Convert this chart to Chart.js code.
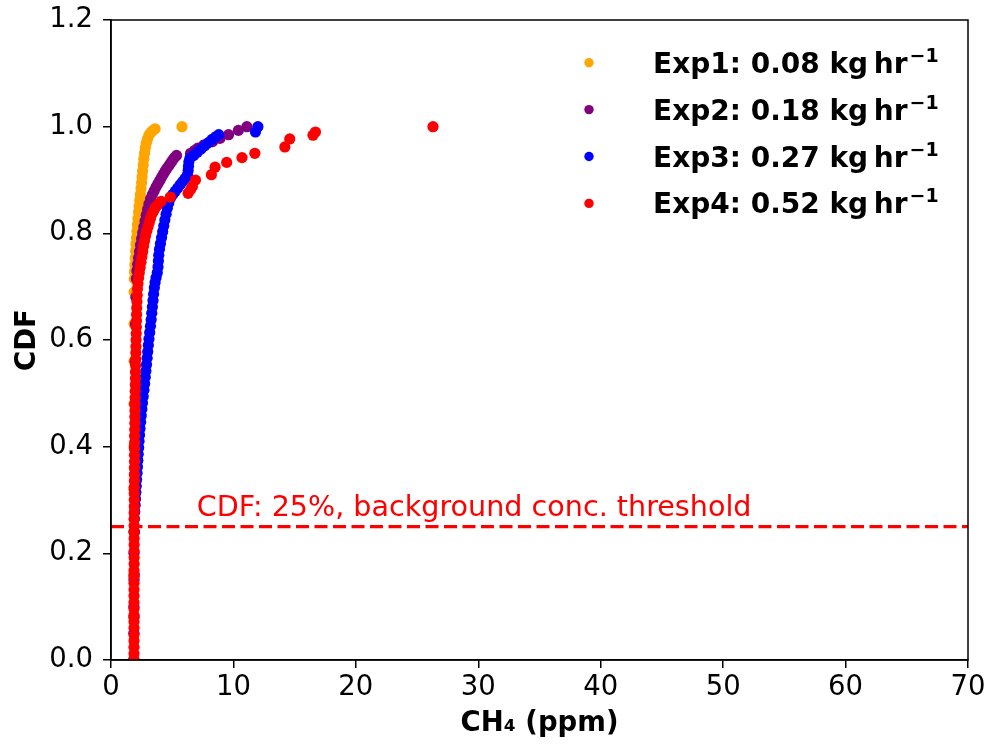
<!DOCTYPE html>
<html><head><meta charset="utf-8">
<script src="https://cdn.jsdelivr.net/npm/chart.js@4/dist/chart.umd.min.js"></script>
<style>html,body{margin:0;padding:0;background:#fff}#wrap{width:990px;height:745px}</style>
</head><body><div id="wrap"><canvas id="c" width="990" height="745"></canvas></div>
<script>
// ---- data ----
const seriesNames = ['Exp1', 'Exp2', 'Exp3', 'Exp4'];
const emissionRates = ['0.08', '0.18', '0.27', '0.52'];
const seriesColors = ['#FFA500', '#800080', '#0000FF', '#FF0000'];

// [CH4 ppm, CDF]
const exp1Points = [[1.84,0.00],[1.85,0.08],[1.85,0.16],[1.86,0.24],[1.86,0.32],[1.87,0.40],[1.87,0.48],[1.88,0.56],[1.88,0.63],[1.89,0.69],[1.9,0.715],[1.92,0.728],[1.95,0.741],[1.98,0.754],[2.01,0.767],[2.04,0.78],[2.08,0.792],[2.12,0.804],[2.16,0.816],[2.2,0.828],[2.25,0.84],[2.3,0.851],[2.35,0.862],[2.4,0.873],[2.45,0.884],[2.5,0.895],[2.54,0.906],[2.58,0.917],[2.63,0.928],[2.68,0.939],[2.74,0.95],[2.8,0.96],[2.88,0.969],[2.98,0.977],[3.1,0.984],[3.25,0.989],[3.42,0.993],[3.6,0.996],[5.8,1.0]];
const exp2Points = [[1.88,0.00],[1.89,0.08],[1.90,0.16],[1.91,0.24],[1.92,0.32],[1.93,0.40],[1.95,0.48],[1.97,0.56],[2.0,0.63],[2.03,0.68],[2.07,0.715],[2.12,0.73],[2.18,0.742],[2.25,0.754],[2.33,0.766],[2.41,0.778],[2.5,0.79],[2.59,0.801],[2.68,0.812],[2.78,0.823],[2.88,0.834],[2.99,0.845],[3.1,0.855],[3.23,0.865],[3.38,0.873],[3.53,0.88],[3.68,0.887],[3.83,0.893],[3.98,0.899],[4.13,0.905],[4.28,0.911],[4.43,0.917],[4.58,0.922],[4.73,0.927],[4.88,0.932],[5.03,0.937],[5.18,0.942],[5.35,0.946],[6.5,0.95],[6.8,0.955],[7.1,0.96],[7.6,0.966],[8.3,0.972],[8.9,0.978],[9.6,0.985],[10.4,0.993],[11.1,1.0]];
const exp3Points = [[1.86,0.00],[1.87,0.05],[1.87,0.10],[1.88,0.15],[1.88,0.20],[1.89,0.24],[1.91,0.265],[1.94,0.278],[1.97,0.29],[2.0,0.302],[2.03,0.314],[2.06,0.326],[2.09,0.338],[2.13,0.35],[2.16,0.362],[2.19,0.374],[2.22,0.386],[2.26,0.398],[2.29,0.41],[2.33,0.422],[2.37,0.434],[2.42,0.446],[2.47,0.458],[2.52,0.47],[2.57,0.482],[2.63,0.494],[2.69,0.506],[2.75,0.518],[2.8,0.53],[2.85,0.542],[2.9,0.554],[2.95,0.566],[3.0,0.578],[3.05,0.59],[3.1,0.602],[3.16,0.614],[3.22,0.626],[3.28,0.638],[3.33,0.65],[3.38,0.662],[3.43,0.674],[3.48,0.686],[3.54,0.698],[3.6,0.708],[3.68,0.717],[3.78,0.726],[3.84,0.737],[3.87,0.748],[3.9,0.759],[3.96,0.77],[4.04,0.781],[4.13,0.792],[4.22,0.803],[4.31,0.814],[4.4,0.825],[4.5,0.836],[4.6,0.847],[4.72,0.857],[4.86,0.866],[5.05,0.873],[5.25,0.879],[5.45,0.885],[5.65,0.891],[5.85,0.897],[6.05,0.903],[6.25,0.91],[6.3,0.918],[6.33,0.926],[6.36,0.934],[6.45,0.941],[6.75,0.946],[7.05,0.952],[7.35,0.958],[7.65,0.964],[7.95,0.97],[8.25,0.976],[8.55,0.981],[8.8,0.985],[11.8,0.99],[12.0,1.0]];
const exp4Points = [[1.88,0.000],[1.88,0.012],[1.88,0.024],[1.88,0.036],[1.88,0.048],[1.88,0.060],[1.88,0.072],[1.88,0.084],[1.88,0.096],[1.88,0.108],[1.88,0.120],[1.88,0.132],[1.88,0.144],[1.88,0.156],[1.88,0.168],[1.89,0.180],[1.89,0.192],[1.89,0.204],[1.89,0.216],[1.89,0.228],[1.89,0.240],[1.89,0.252],[1.89,0.264],[1.89,0.276],[1.90,0.288],[1.90,0.300],[1.90,0.312],[1.90,0.324],[1.91,0.336],[1.91,0.348],[1.91,0.360],[1.92,0.372],[1.92,0.384],[1.92,0.396],[1.93,0.408],[1.93,0.420],[1.94,0.432],[1.95,0.444],[1.95,0.456],[1.96,0.468],[1.97,0.480],[1.97,0.492],[1.98,0.504],[1.99,0.516],[2.00,0.528],[2.00,0.540],[2.01,0.552],[2.02,0.564],[2.03,0.576],[2.04,0.588],[2.05,0.600],[2.06,0.612],[2.07,0.624],[2.08,0.636],[2.09,0.648],[2.10,0.660],[2.12,0.672],[2.14,0.684],[2.16,0.696],[2.20,0.706],[2.25,0.716],[2.31,0.726],[2.38,0.736],[2.45,0.746],[2.52,0.756],[2.59,0.766],[2.66,0.776],[2.74,0.786],[2.82,0.795],[2.92,0.804],[3.02,0.812],[3.12,0.82],[3.22,0.828],[3.34,0.836],[3.48,0.842],[3.62,0.848],[3.8,0.853],[4.1,0.86],[4.85,0.868],[6.3,0.875],[6.5,0.882],[6.65,0.888],[6.9,0.9],[8.2,0.91],[8.5,0.924],[9.45,0.933],[10.7,0.942],[11.75,0.95],[14.2,0.962],[14.6,0.977],[16.5,0.984],[16.7,0.99],[26.3,1.0]];
const allSeries = [exp1Points, exp2Points, exp3Points, exp4Points];

const xTicks = [0, 10, 20, 30, 40, 50, 60, 70];
const yTicks = [0, 0.2, 0.4, 0.6, 0.8, 1.0, 1.2];
const thresholdCdf = 0.25;
const thresholdLabel = 'CDF: 25%, background conc. threshold';
const thresholdLabelAt = [7.0, 0.27];
const xTitle = 'CH\u2084 (ppm)';
const yTitle = 'CDF';

// ---- chart ----
Chart.defaults.color = '#000';
Chart.defaults.font.family = '"DejaVu Sans", sans-serif';

const datasets = allSeries.map((pts, i) => ({
  label: seriesNames[i],
  data: pts.map(p => ({x: p[0], y: p[1]})),
  backgroundColor: seriesColors[i],
  borderColor: seriesColors[i],
  pointRadius: 5.6,
  pointBorderWidth: 0,
  pointHoverRadius: 5.6,
  showLine: false,
  clip: 0,
  order: allSeries.length - i + 1
}));
datasets.push({
  type: 'line',
  label: 'threshold',
  data: [{x: xTicks[0], y: thresholdCdf}, {x: xTicks[xTicks.length - 1], y: thresholdCdf}],
  borderColor: '#FF0000',
  borderWidth: 3.2,
  borderDash: [13, 5.5],
  pointRadius: 0,
  fill: false,
  clip: 0,
  order: 0
});

const framePlugin = {
  id: 'frame',
  afterDatasetsDraw(chart) {
    const {ctx, chartArea: a} = chart;
    ctx.save();
    ctx.strokeStyle = '#000';
    ctx.lineWidth = 1.5;
    ctx.strokeRect(a.left, a.top, a.right - a.left, a.bottom - a.top);
    const xs = chart.scales.x, ys = chart.scales.y;
    ctx.fillStyle = '#FF0000';
    ctx.font = '28.6px "DejaVu Sans"';
    ctx.textBaseline = 'alphabetic';
    ctx.textAlign = 'left';
    ctx.fillText(thresholdLabel, xs.getPixelForValue(thresholdLabelAt[0]), ys.getPixelForValue(thresholdLabelAt[1]));
    ctx.restore();
  }
};

const legendPlugin = {
  id: 'customLegend',
  afterDraw(chart) {
    const {ctx} = chart;
    const markerX = 589, textX = 653, top = 62.7, step = 46.9;
    ctx.save();
    seriesNames.forEach((name, i) => {
      const y = top + i * step;
      ctx.fillStyle = seriesColors[i];
      ctx.beginPath();
      ctx.arc(markerX, y, 4.7, 0, Math.PI * 2);
      ctx.fill();
      ctx.fillStyle = '#000';
      ctx.textBaseline = 'alphabetic';
      ctx.textAlign = 'left';
      ctx.font = 'bold 28px "DejaVu Sans"';
      const main = name + ': ' + emissionRates[i] + ' kg\u2009hr';
      ctx.fillText(main, textX, y + 10);
      const w = ctx.measureText(main).width;
      ctx.font = 'bold 19px "DejaVu Sans"';
      ctx.fillText('\u22121', textX + w + 2, y - 1);
    });
    ctx.restore();
  }
};

new Chart(document.getElementById('c'), {
  type: 'scatter',
  data: {datasets},
  options: {
    responsive: false,
    animation: false,
    events: [],
    layout: {padding: {left: 0, right: 22, top: 20, bottom: 0}},
    plugins: {legend: {display: false}, tooltip: {enabled: false}},
    scales: {
      x: {
        type: 'linear',
        min: xTicks[0], max: xTicks[xTicks.length - 1],
        afterBuildTicks: s => { s.ticks = xTicks.map(v => ({value: v})); },
        afterFit: s => { s.height = 85; s.paddingLeft = 0; s.paddingRight = 0; },
        ticks: {font: {size: 27.5}, padding: 3, callback: v => String(v), maxRotation: 0, autoSkip: false},
        grid: {drawOnChartArea: false, drawTicks: true, tickLength: 8, color: '#000', lineWidth: 1.5},
        border: {display: true, color: '#000', width: 1.5},
        title: {display: true, text: xTitle, font: {size: 27.5, weight: 'bold'}, padding: {top: 0, bottom: 5}}
      },
      y: {
        type: 'linear',
        min: yTicks[0], max: yTicks[yTicks.length - 1],
        afterBuildTicks: s => { s.ticks = yTicks.map(v => ({value: v})); },
        afterFit: s => { s.width = 111; s.paddingTop = 0; s.paddingBottom = 0; },
        ticks: {font: {size: 27.5}, padding: 10, callback: v => Number(v).toFixed(1), autoSkip: false},
        grid: {drawOnChartArea: false, drawTicks: true, tickLength: 8, color: '#000', lineWidth: 1.5},
        border: {display: true, color: '#000', width: 1.5},
        title: {display: true, text: yTitle, font: {size: 27.5, weight: 'bold'}, padding: {top: 11, bottom: 0}}
      }
    }
  },
  plugins: [framePlugin, legendPlugin]
});
</script></body></html>
